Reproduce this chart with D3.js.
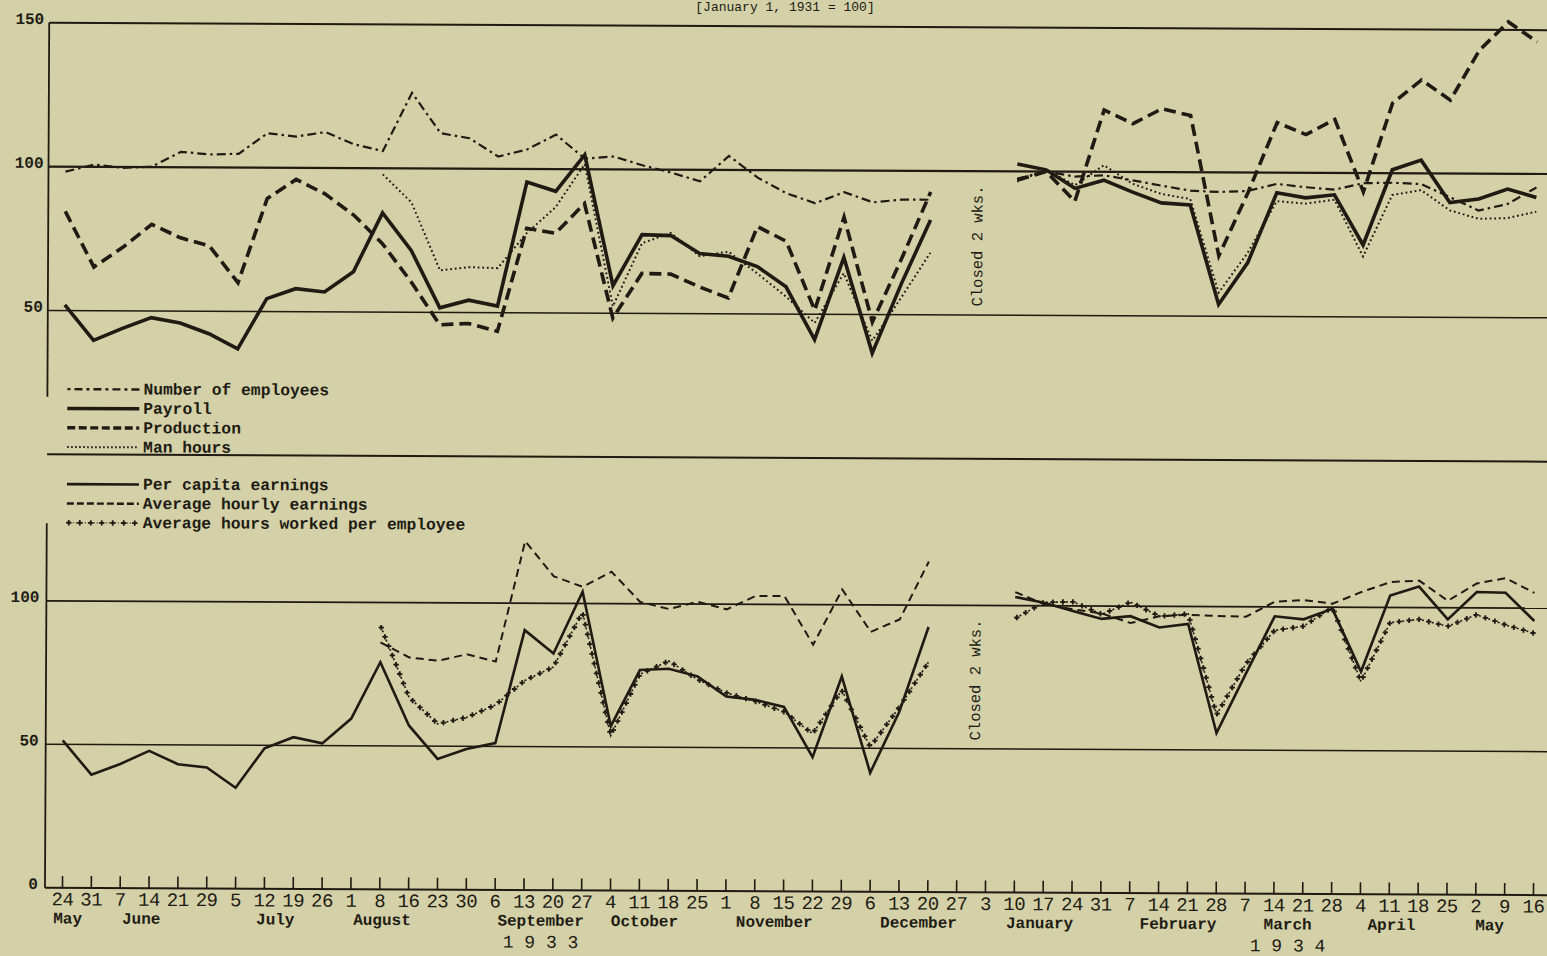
<!DOCTYPE html>
<html lang="en">
<head>
<meta charset="utf-8" />
<title>Indexes of employment, payroll and production, 1933-1934</title>
<script src="https://d3js.org/d3.v7.min.js"></script>
<style>
    body { margin: 0; background: #d4d0a8; }
    svg { display: block; }
    text { font-family: "Liberation Mono", "DejaVu Sans Mono", monospace; fill: #211c13; }
    .bold { font-weight: bold; }
</style>
</head>
<body>
<svg width="1547" height="956"></svg>
<script>
// weekly dates, May 24 1933 .. May 16 1934
const dateLabels = ["24","31","7","14","21","29","5","12","19","26","1","8","16","23","30","6",
    "13","20","27","4","11","18","25","1","8","15","22","29","6","13","20","27",
    "3","10","17","24","31","7","14","21","28","7","14","21","28","4","11","18","25","2","9","16"];

const monthNames = ["May","June","July","August","September","October","November","December",
    "January","February","March","April","May"];
const monthAt = [0.2, 2.75, 7.4, 11.1, 16.6, 20.2, 24.7, 29.7, 33.9, 38.7, 42.5, 46.1, 49.5];
const yearNames = ["1 9 3 3", "1 9 3 4"];
const yearAt = [16.6, 42.5];

// top panel (null = no report)
const employees = [98.3,100.8,99.7,100.2,105.4,104.5,104.8,112,110.9,112.5,108.3,106,126.3,112.3,110.6,104.3,
    106.8,112,103.7,104.5,101.5,99,96,104.9,97.4,92,88.6,92.5,89,90,90,null,
    null,97.5,100,98.3,98.8,97.1,95.3,93.6,93.2,93.6,96.1,95,94.2,96.5,96.7,96.3,91.8,87.2,89.5,95.3];
const payroll = [52,39.7,43.9,47.7,45.9,42.2,37,54.5,58,56.9,64,84.5,71.5,51.6,54.3,52.3,
    95.5,92.3,105,59.6,77.4,77.1,70.9,70,66.5,59.5,41.2,69.8,36.6,60.8,83,null,
    null,102.6,100.6,94.2,97.1,93,89.3,88.6,54.1,68.6,93,91.3,92.4,75,101.2,104.6,89.9,91.2,94.7,91.8];
const production = [84.5,65.2,72.1,80.1,75.5,72.7,60,89.3,96,91,83.7,73.8,60.6,45.7,46.2,43.5,
    79.4,77.7,88.1,48.3,63.9,63.7,59.3,55.5,80.4,75.3,51.4,83.8,47.4,69.4,92.7,null,
    null,97,100,89.7,121.5,116.8,122,119.7,71,93,117.4,113.3,118.6,93.5,124.4,132.5,125.5,142.9,152.8,145.9];
const manHours = [null,null,null,null,null,null,null,null,null,null,null,97.9,88.2,64.6,65.8,65.5,
    77.7,86.8,101.8,52.4,74.4,78,70,71.6,64.1,56.1,47,64.3,40.9,56,71.6,null,
    null,96.5,100.6,95.3,102.3,95.9,92.4,90.7,58.2,72.1,90.1,89.3,90.7,71,92.4,94.2,87.2,84.3,84.6,86.9];

// bottom panel
const perCapita = [51.4,39.5,43.3,47.9,43.3,42.2,35.2,49,52.9,50.8,59.5,79.2,57.2,45.6,49.1,51.2,
    90.6,82.5,104.1,57.3,76.9,77.4,74.8,67.8,66.7,64.3,46.8,75,41.5,62.8,92.4,null,
    null,103,101,98.2,95.5,96.5,92.6,93.9,55.9,76.5,96.7,95.7,99.4,77.6,104.1,107.3,95.9,105.5,105.3,95.5];
const hourlyEarnings = [null,null,null,null,null,null,null,null,null,null,null,86.1,80.9,79.8,82.1,79.6,
    121.6,109.4,105.8,111.1,100.6,98.2,100.8,98.2,102.9,102.9,86,105.3,90.6,95,115.2,null,
    null,104.7,100.6,98.8,97.4,94.1,96.5,97.1,96.7,96.5,101.8,102.4,101.2,105.3,108.8,109.4,102.4,108.5,110.4,105.3];
const hoursWorked = [null,null,null,null,null,null,null,null,null,null,null,91.9,67,57.8,60.1,64.5,
    73,77.8,97,54,75.4,80.1,73.7,69.1,66.2,62.6,55,70.2,50.5,64.4,80.1,null,
    null,95.5,101.2,101.4,97.1,101.4,96.5,97.4,62.3,80,91.8,93.3,100,74.1,94.7,95.9,93.5,97.6,94.1,91.2];

const topLegend = ["Number of employees", "Payroll", "Production", "Man hours"];
const bottomLegend = ["Per capita earnings", "Average hourly earnings", "Average hours worked per employee"];

const ink = "#1f1a12";
const styles = {
    employees:  { w: 2.2, dash: "9,4,2.5,4" },
    payroll:    { w: 3.6, dash: null },
    production: { w: 3.6, dash: "12,6" },
    manHours:   { w: 2.0, dash: "1.8,2.8" },
    perCapita:  { w: 2.6, dash: null },
    hourly:     { w: 2.0, dash: "8,5" },
    worked:     { w: 1.6, dash: "2,3", plus: true }
};

const svg = d3.select("svg");
// the scanned sheet is a little skewed
const g = svg.append("g").attr("transform", "rotate(0.28, 797, 478)");

const x = d3.scaleLinear().domain([0, 51]).range([64, 1535]);
const yTop = d3.scaleLinear().domain([0, 150]).range([458, 26.5]);
const yBot = d3.scaleLinear().domain([0, 100]).range([891.5, 604.5]);
const left = 47, right = 1560;

// title (the reference trims it at the top edge)
svg.append("text").attr("x", 785).attr("y", 11).attr("text-anchor", "middle")
    .style("font-size", "13px").text("[January 1, 1931 = 100]");

// rules
const rules = g.append("g").attr("stroke", ink).attr("fill", "none");
[[150, 2], [100, 2.2], [50, 1.5], [0, 2]].forEach(([v, w]) => {
    rules.append("line").attr("x1", left).attr("x2", right)
        .attr("y1", yTop(v)).attr("y2", yTop(v)).attr("stroke-width", w);
});
[[100, 1.8], [50, 1.5]].forEach(([v, w]) => {
    rules.append("line").attr("x1", left).attr("x2", right)
        .attr("y1", yBot(v)).attr("y2", yBot(v)).attr("stroke-width", w);
});
rules.append("line").attr("x1", left).attr("x2", left)
    .attr("y1", yTop(150)).attr("y2", yTop(20)).attr("stroke-width", 1.8);
rules.append("line").attr("x1", left).attr("x2", left)
    .attr("y1", yBot(127)).attr("y2", yBot(0)).attr("stroke-width", 1.8);
rules.append("line").attr("x1", left).attr("x2", right)
    .attr("y1", yBot(0)).attr("y2", yBot(0)).attr("stroke-width", 2);

// y labels
g.append("g").attr("transform", `translate(${left},0)`)
    .call(d3.axisLeft(yTop).tickValues([50, 100, 150]).tickSize(0).tickPadding(5))
    .call(a => a.select(".domain").remove())
    .selectAll("text").attr("dy", "0.05em").attr("class", "bold")
    .style("font-size", "16px").style("font-family", null).attr("fill", ink);
g.append("g").attr("transform", `translate(${left},0)`)
    .call(d3.axisLeft(yBot).tickValues([0, 50, 100]).tickSize(0).tickPadding(7))
    .call(a => a.select(".domain").remove())
    .selectAll("text").attr("dy", "0.05em").attr("class", "bold")
    .style("font-size", "16px").style("font-family", null).attr("fill", ink);

// x axis: week ticks
const xAxis = g.append("g").attr("transform", `translate(0,${yBot(0)})`)
    .call(d3.axisBottom(x).tickValues(d3.range(52)).tickFormat(i => dateLabels[i])
        .tickSizeInner(-12).tickSizeOuter(0).tickPadding(4));
xAxis.select(".domain").remove();
xAxis.selectAll("line").attr("stroke", ink).attr("stroke-width", 1.6);
xAxis.selectAll("text").style("font-size", "19px").style("font-family", null)
    .attr("fill", ink).attr("letter-spacing", "-0.5");

g.append("g").selectAll("text").data(monthNames).join("text")
    .attr("class", "bold").attr("x", (d, i) => x(monthAt[i])).attr("y", 927)
    .attr("text-anchor", "middle").style("font-size", "16px").text(d => d);
g.append("g").selectAll("text").data(yearNames).join("text")
    .attr("x", (d, i) => x(yearAt[i])).attr("y", 949)
    .attr("text-anchor", "middle").style("font-size", "18px").text(d => d);

// closed note
[yTop(74), yBot(74)].forEach(yy => {
    g.append("text").attr("transform", `translate(${x(31.8)},${yy}) rotate(-90)`)
        .attr("text-anchor", "middle").style("font-size", "15.5px").text("Closed 2 wks.");
});

// series
function segments(values) {
    const out = [];
    let cur = [];
    values.forEach((v, i) => {
        if (v == null) { if (cur.length) out.push(cur); cur = []; }
        else cur.push([i, v]);
    });
    if (cur.length) out.push(cur);
    return out;
}

function drawSeries(values, y, st) {
    const line = d3.line().x(d => x(d[0])).y(d => y(d[1]));
    segments(values).forEach(seg => {
        const p = g.append("path").attr("d", line(seg)).attr("fill", "none")
            .attr("stroke", ink).attr("stroke-width", st.w)
            .attr("stroke-linejoin", "miter").attr("stroke-dasharray", st.dash);
        if (st.plus) addPlus(p.node(), 10);
    });
}

const cross = d3.symbol(d3.symbolCross, 16);
function addPlus(node, step) {
    const len = node.getTotalLength();
    const pts = d3.range(2, len, step).map(l => node.getPointAtLength(l));
    g.append("g").selectAll("path").data(pts).join("path")
        .attr("d", cross).attr("fill", ink)
        .attr("transform", p => `translate(${p.x},${p.y})`);
}

drawSeries(employees, yTop, styles.employees);
drawSeries(manHours, yTop, styles.manHours);
drawSeries(production, yTop, styles.production);
drawSeries(payroll, yTop, styles.payroll);

drawSeries(hourlyEarnings, yBot, styles.hourly);
drawSeries(hoursWorked, yBot, styles.worked);
drawSeries(perCapita, yBot, styles.perCapita);

// legends
function legend(names, y0, legStyles) {
    names.forEach((name, i) => {
        const yy = y0 + i * 19.3;
        const st = legStyles[i];
        const p = g.append("path").attr("d", `M67,${yy - 5}H139`).attr("fill", "none")
            .attr("stroke", ink).attr("stroke-width", st.w).attr("stroke-dasharray", st.dash);
        if (st.plus) addPlus(p.node(), 11);
        g.append("text").attr("class", "bold").attr("x", 143).attr("y", yy)
            .style("font-size", "16.3px").text(name);
    });
}
legend(topLegend, 397.7, [
    { w: 2.4, dash: "3,4,8,4" },
    { w: 3.6, dash: null },
    { w: 3.4, dash: "8,3.5" },
    { w: 2, dash: "1.6,2.4" }
]);
legend(bottomLegend, 492.7, [
    { w: 2.6, dash: null },
    { w: 2.4, dash: "7,3" },
    { w: 1.2, dash: "1,2", plus: true }
]);
</script>
</body>
</html>
